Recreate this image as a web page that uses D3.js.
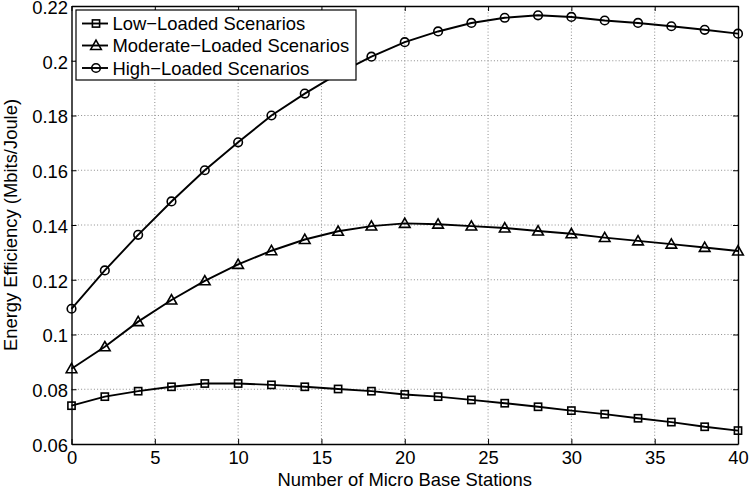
<!DOCTYPE html>
<html>
<head>
<meta charset="utf-8">
<script src="https://cdn.jsdelivr.net/npm/d3@7"></script>
<style>
  html, body { margin: 0; padding: 0; background: #fff; }
  svg { display: block; font-family: "Liberation Sans", Arial, Helvetica, sans-serif; }
</style>
</head>
<body>
<svg id="chart" width="749" height="490"></svg>
<script>
const xValues = [0,2,4,6,8,10,12,14,16,18,20,22,24,26,28,30,32,34,36,38,40];
const lowLoaded = [0.0740,0.0773,0.0793,0.0809,0.0821,0.0821,0.0816,0.0809,0.0801,0.0793,0.0781,0.0773,0.0761,0.0749,0.0736,0.0722,0.0709,0.0694,0.0680,0.0663,0.0649];
const moderateLoaded = [0.0875,0.0955,0.1047,0.1126,0.1196,0.1256,0.1306,0.1347,0.1377,0.1396,0.1406,0.1403,0.1396,0.1389,0.1378,0.1368,0.1354,0.1342,0.1330,0.1318,0.1305];
const highLoaded = [0.1094,0.1234,0.1364,0.1486,0.1600,0.1702,0.1800,0.1880,0.1953,0.2015,0.2068,0.2107,0.2138,0.2157,0.2166,0.2160,0.2147,0.2138,0.2126,0.2113,0.2099];
const seriesNames = ["Low\u2212Loaded Scenarios","Moderate\u2212Loaded Scenarios","High\u2212Loaded Scenarios"];
const markerTypes = ["square","triangle","circle"];
const xTicks = [0,5,10,15,20,25,30,35,40];
const yTicks = [0.06,0.08,0.10,0.12,0.14,0.16,0.18,0.20,0.22];
const yTickLabels = ["0.06","0.08","0.1","0.12","0.14","0.16","0.18","0.2","0.22"];
const xLabel = "Number of Micro Base Stations";
const yLabel = "Energy Efficiency (Mbits/Joule)";

const svg = d3.select("#chart");
const L = 71.5, R = 738, T = 6, B = 444;
const x = d3.scaleLinear().domain([0,40]).range([L,R]);
const y = d3.scaleLinear().domain([0.06,0.22]).range([B,T]);
const fontSize = 18.4;
const ff = "'Liberation Sans', Arial, sans-serif";

// grid
const grid = svg.append("g");
grid.selectAll("line.gx").data(xTicks.slice(1,-1)).join("line")
  .attr("x1", d=>x(d)).attr("x2", d=>x(d)).attr("y1", T).attr("y2", B)
  .attr("stroke","#8c8c8c").attr("stroke-width",1).attr("stroke-dasharray","1,2.2");
grid.selectAll("line.gy").data(yTicks.slice(1,-1)).join("line")
  .attr("y1", d=>y(d)).attr("y2", d=>y(d)).attr("x1", L).attr("x2", R)
  .attr("stroke","#8c8c8c").attr("stroke-width",1).attr("stroke-dasharray","1,2.2");

// axes
const axB = svg.append("g").attr("transform",`translate(0,${B})`)
  .call(d3.axisBottom(x).tickValues(xTicks).tickSizeInner(-5).tickSizeOuter(0).tickPadding(7));
const axT = svg.append("g").attr("transform",`translate(0,${T})`)
  .call(d3.axisTop(x).tickValues(xTicks).tickSizeInner(-5).tickSizeOuter(0).tickFormat(""));
const axL = svg.append("g").attr("transform",`translate(${L},0)`)
  .call(d3.axisLeft(y).tickValues(yTicks).tickSizeInner(-5).tickSizeOuter(0).tickPadding(3.5)
    .tickFormat((d,i)=>yTickLabels[i]));
const axR = svg.append("g").attr("transform",`translate(${R},0)`)
  .call(d3.axisRight(y).tickValues(yTicks).tickSizeInner(-5).tickSizeOuter(0).tickFormat(""));
[axB,axT,axL,axR].forEach(a=>{
  a.select(".domain").attr("stroke","#000").attr("stroke-width",1.4);
  a.selectAll(".tick line").attr("stroke","#000").attr("stroke-width",1);
  a.selectAll(".tick text").attr("fill","#000").attr("font-size",fontSize).attr("font-family",ff);
});
axB.selectAll(".tick text").attr("dy","0.71em");
axL.selectAll(".tick text").attr("dy","0.4em");

// labels
svg.append("text").attr("x",(L+R)/2).attr("y",486).attr("text-anchor","middle")
  .attr("font-size",fontSize).attr("font-family",ff).text(xLabel);
svg.append("text").attr("transform",`translate(16.5,${(T+B)/2}) rotate(-90)`)
  .attr("text-anchor","middle").attr("font-size",fontSize).attr("font-family",ff).text(yLabel);

// series
const allSeries = [lowLoaded, moderateLoaded, highLoaded];
const line = d3.line().x((d,i)=>x(xValues[i])).y(d=>y(d));
function drawMarker(g, type, cx, cy) {
  if (type === "square") {
    g.append("rect").attr("x",cx-3.6).attr("y",cy-3.6).attr("width",7.2).attr("height",7.2)
      .attr("fill","none").attr("stroke","#000").attr("stroke-width",1.6);
  } else if (type === "triangle") {
    const s = 5.3;
    g.append("path").attr("d",`M${cx},${cy-s}L${cx+s},${cy+s*0.75}L${cx-s},${cy+s*0.75}Z`)
      .attr("fill","none").attr("stroke","#000").attr("stroke-width",1.6);
  } else {
    g.append("circle").attr("cx",cx).attr("cy",cy).attr("r",4.3)
      .attr("fill","none").attr("stroke","#000").attr("stroke-width",1.6);
  }
}
allSeries.forEach((s,k)=>{
  const g = svg.append("g");
  g.append("path").datum(s).attr("d",line).attr("fill","none")
    .attr("stroke","#000").attr("stroke-width",1.9);
  s.forEach((v,i)=>drawMarker(g, markerTypes[k], x(xValues[i]), y(v)));
});

// legend
const lg = svg.append("g");
lg.append("rect").attr("x",76).attr("y",10).attr("width",280).attr("height",70)
  .attr("fill","#fff").attr("stroke","#000").attr("stroke-width",1.2);
const rowY = [23.5,45.5,68];
seriesNames.forEach((n,k)=>{
  lg.append("line").attr("x1",82).attr("x2",108).attr("y1",rowY[k]).attr("y2",rowY[k])
    .attr("stroke","#000").attr("stroke-width",1.9);
  drawMarker(lg, markerTypes[k], 96, rowY[k]);
  lg.append("text").attr("x",112.5).attr("y",rowY[k]).attr("dy","0.36em")
    .attr("font-size",fontSize).attr("font-family",ff).text(n);
});
</script>
</body>
</html>
